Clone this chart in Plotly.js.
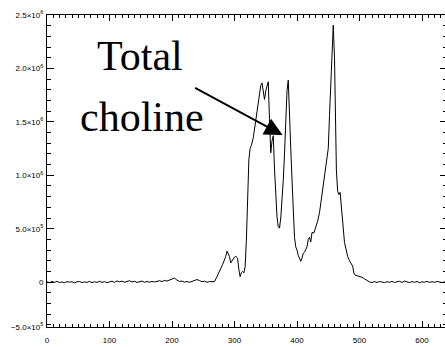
<!DOCTYPE html>
<html>
<head>
<meta charset="utf-8">
<script src="https://cdn.plot.ly/plotly-3.0.1.min.js"></script>
<style>
html,body{margin:0;padding:0;overflow:hidden;background:#fff;}
#chart{width:450px;height:347px;}
</style>
</head>
<body>
<div id="chart"></div>
<script>
// Chemical shift axis positions (x) and signal intensity (y)
const shift = [
  0,4,8,12,16,20,24,28,32,36,40,44,48,52,56,60,64,68,72,76,80,84,88,92,96,100,
  104,108,112,116,120,124,128,132,136,140,144,148,152,156,160,164,168,172,176,180,
  184,188,192,196,200,204,208,212,216,220,224,228,232,236,240,244,248,252,256,260,264,268,
  271,274,276,279,281,284,286,288,290,292,294,296,298,300,302,305,307,309,311,313,315,317,319,
  321,323,325,327,330,333,336,339,342,344,346,348,350,352,354,356,358,360,362,364,366,368,370,
  372,374,376,378,380,382,384,386,388,390,392,394,396,398,400,402,404,406,408,410,412,414,416,
  418,420,422,424,427,430,433,436,438,440,443,446,448,450,452,454,456,458,460,461,462,463,465,
  467,469,470,472,474,476,478,481,484,487,489,491,493,496,500,504,508,512,516,
  520,524,528,532,536,540,544,548,552,556,560,564,568,572,576,580,584,588,592,596,600,604,608,
  612,616,620,624,628,632,636,640
];
const signal = [
  3000,-5000,6000,-2000,7000,-4000,2000,-6000,5000,-1000,4000,-7000,3000,6000,-4000,2000,-3000,
  7000,-5000,3000,-2000,8000,-3000,5000,-5000,4000,
  9000,-2000,11000,3000,9000,-1000,6000,13000,2000,8000,-3000,5000,10000,-2000,6000,-1000,7000,
  1000,9000,13000,
  5000,16000,10000,20000,28000,38000,18000,6000,10000,-1000,6000,-2000,7000,15000,24000,14000,
  4000,9000,-1000,5000,2000,4000,
  40000,84000,112000,140000,165000,205000,240000,290000,270000,240000,180000,200000,222000,
  235000,243000,220000,115000,50000,90000,100000,87000,143000,393000,
  820000,1150000,1250000,1280000,1350000,1480000,1620000,1760000,1840000,1865000,1790000,1710000,
  1790000,1850000,1875000,1520000,1210000,1320000,1370000,1060000,790000,610000,520000,
  505000,600000,750000,950000,1200000,1500000,1790000,1890000,1640000,1250000,960000,610000,
  420000,330000,300000,250000,215000,195000,225000,270000,280000,300000,330000,
  400000,420000,375000,465000,460000,510000,570000,650000,740000,840000,930000,1080000,1170000,
  1250000,1560000,1880000,2250000,2405000,2100000,1800000,1300000,1050000,850000,
  820000,840000,760000,610000,450000,370000,320000,240000,200000,170000,150000,85000,65000,
  60000,55000,45000,30000,12000,2000,
  -4000,5000,-3000,6000,1000,-5000,4000,-2000,7000,-4000,3000,8000,-3000,10000,2000,-4000,5000,
  -2000,6000,-5000,3000,-1000,7000,
  -3000,4000,-2000,6000,1000,-4000,3000,0
];

// Axis ticks
const xTickValues = [0, 100, 200, 300, 400, 500, 600];
const xTickLabels = ["0", "100", "200", "300", "400", "500", "600"];
const yMin = -420000, yMax = 2500000;
const yTickValues = [2500000, 2000000, 1500000, 1000000, 500000, 0, yMin];
const yTickLabels = ["2.5×10<sup>6</sup>", "2.0×10<sup>6</sup>", "1.5×10<sup>6</sup>",
  "1.0×10<sup>6</sup>", "5.0×10<sup>5</sup>", "0", "−5.0×10<sup>5</sup>"];

// Annotation
const labelLines = ["Total", "choline"];
const arrowTip = {x: 377, y: 1376000};

const tickFont = {family: "Liberation Sans, Arial, sans-serif", size: 8, color: "#000"};
const labelFont = {family: "Liberation Serif, Times New Roman, serif", size: 42, color: "#000"};

const trace = {
  x: shift, y: signal, type: "scatter", mode: "lines",
  line: {color: "#000", width: 1}, hoverinfo: "skip"
};

const layout = {
  width: 450, height: 347,
  margin: {l: 47, r: 3, t: 15, b: 20, pad: 0},
  paper_bgcolor: "#fff", plot_bgcolor: "#fff",
  showlegend: false,
  xaxis: {
    range: [0, 640], showgrid: false, zeroline: false,
    showline: true, linecolor: "#000", linewidth: 1, mirror: "ticks",
    ticks: "inside", ticklen: 6, tickcolor: "#000", tickwidth: 1,
    tickmode: "array", tickvals: xTickValues, ticktext: xTickLabels,
    tickfont: tickFont, ticklabelstandoff: 5,
    minor: {dtick: 10, tick0: 0, ticks: "inside", ticklen: 3, tickcolor: "#000", tickwidth: 1, showgrid: false}
  },
  yaxis: {
    range: [yMin, yMax], showgrid: false, zeroline: false,
    showline: true, linecolor: "#000", linewidth: 1, mirror: "ticks",
    ticks: "inside", ticklen: 7, tickcolor: "#000", tickwidth: 1,
    tickmode: "array", tickvals: yTickValues, ticktext: yTickLabels,
    tickfont: tickFont, ticklabelstandoff: 1,
    minor: {dtick: 100000, tick0: 0, ticks: "inside", ticklen: 4, tickcolor: "#000", tickwidth: 1, showgrid: false}
  },
  annotations: [
    {xref: "paper", yref: "paper", x: (140 - 47) / 400, y: (327 - 56) / 312,
     xanchor: "center", yanchor: "middle", showarrow: false, text: labelLines[0], font: labelFont},
    {xref: "paper", yref: "paper", x: (142 - 47) / 400, y: (327 - 117) / 312,
     xanchor: "center", yanchor: "middle", showarrow: false, text: labelLines[1], font: labelFont},
    {xref: "x", yref: "y", x: arrowTip.x, y: arrowTip.y, ax: -89, ay: -48,
     text: "", showarrow: true, arrowhead: 2, arrowsize: 2, arrowwidth: 1.8, arrowcolor: "#000"}
  ]
};

Plotly.newPlot("chart", [trace], layout, {displayModeBar: false, staticPlot: true});
</script>
</body>
</html>
